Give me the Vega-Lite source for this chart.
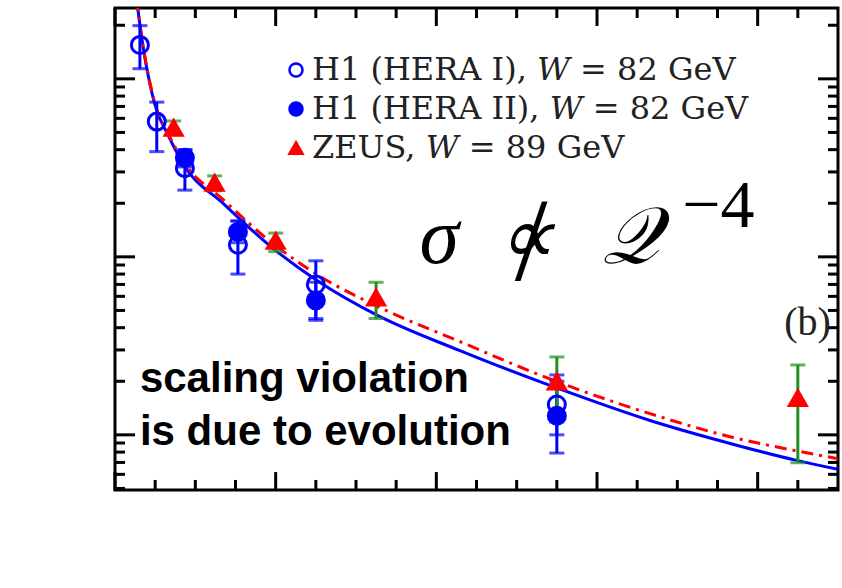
{
  "$schema": "https://vega.github.io/schema/vega-lite/v6.json",
  "width": 723,
  "height": 482,
  "autosize": "none",
  "padding": {"left": 115, "top": 8, "right": 4, "bottom": 98},
  "background": "white",
  "config": {
    "view": {"stroke": "black", "strokeWidth": 3},
    "font": "Liberation Serif",
    "axis": {
      "grid": false, "domain": false,
      "labelFont": "Liberation Serif", "titleFont": "DejaVu Serif",
      "labelColor": "black", "titleColor": "#222222", "tickColor": "black",
      "titleFontWeight": "normal"
    },
    "legend": {
      "orient": "none", "legendX": 165, "legendY": 46,
      "labelFont": "DejaVu Serif", "labelFontSize": 32, "labelColor": "#222222",
      "labelLimit": 700, "symbolSize": 170, "symbolStrokeWidth": 2.5,
      "rowPadding": 7, "padding": 0, "labelOffset": 0
    }
  },
  "datasets": {
    "xmaj": [{"v": 0}, {"v": 20}, {"v": 40}, {"v": 60}, {"v": 80}],
    "xmin": [{"v": 5}, {"v": 10}, {"v": 15}, {"v": 25}, {"v": 30}, {"v": 35}, {"v": 45}, {"v": 50}, {"v": 55}, {"v": 65}, {"v": 70}, {"v": 75}, {"v": 85}],
    "ymaj": [{"v": 0.1}, {"v": 1}, {"v": 10}],
    "ymin": [{"v": 0.05}, {"v": 0.06}, {"v": 0.07}, {"v": 0.08}, {"v": 0.09}, {"v": 0.2}, {"v": 0.3}, {"v": 0.4}, {"v": 0.5}, {"v": 0.6}, {"v": 0.7}, {"v": 0.8}, {"v": 0.9}, {"v": 2}, {"v": 3}, {"v": 4}, {"v": 5}, {"v": 6}, {"v": 7}, {"v": 8}, {"v": 9}, {"v": 20}],
    "blue": [
      {"q2": 2.7, "sigma": 28}, {"q2": 2.86, "sigma": 24.4}, {"q2": 4.97, "sigma": 7.14},
      {"q2": 6.6, "sigma": 4.84}, {"q2": 8.32, "sigma": 3.42}, {"q2": 13.66, "sigma": 1.96},
      {"q2": 19.63, "sigma": 1.12}, {"q2": 25.47, "sigma": 0.72}, {"q2": 32.55, "sigma": 0.472},
      {"q2": 42.86, "sigma": 0.298}, {"q2": 54.9, "sigma": 0.184}, {"q2": 66.5, "sigma": 0.1208},
      {"q2": 76.8, "sigma": 0.0889}, {"q2": 84.7, "sigma": 0.0721}, {"q2": 90, "sigma": 0.064}
    ],
    "red": [
      {"q2": 2.7, "sigma": 28}, {"q2": 2.86, "sigma": 24.4}, {"q2": 4.97, "sigma": 7.3},
      {"q2": 6.6, "sigma": 4.95}, {"q2": 8.32, "sigma": 3.55}, {"q2": 13.66, "sigma": 2.06},
      {"q2": 19.63, "sigma": 1.19}, {"q2": 25.47, "sigma": 0.78}, {"q2": 32.55, "sigma": 0.53},
      {"q2": 42.86, "sigma": 0.335}, {"q2": 54.9, "sigma": 0.2}, {"q2": 66.5, "sigma": 0.132},
      {"q2": 76.8, "sigma": 0.097}, {"q2": 84.7, "sigma": 0.0815}, {"q2": 90, "sigma": 0.0735}
    ],
    "pts": [
      {"series": "H1 (HERA I),  𝑊  =  82 GeV", "q2": 3.1, "sigma": 15.5, "lo": 11.4, "hi": 19.9},
      {"series": "H1 (HERA I),  𝑊  =  82 GeV", "q2": 5.2, "sigma": 5.75, "lo": 3.9, "hi": 7.4},
      {"series": "H1 (HERA I),  𝑊  =  82 GeV", "q2": 8.7, "sigma": 3.15, "lo": 2.37, "hi": 3.99},
      {"series": "H1 (HERA I),  𝑊  =  82 GeV", "q2": 15.3, "sigma": 1.17, "lo": 0.8, "hi": 1.59},
      {"series": "H1 (HERA I),  𝑊  =  82 GeV", "q2": 25, "sigma": 0.7, "lo": 0.45, "hi": 0.95},
      {"series": "H1 (HERA I),  𝑊  =  82 GeV", "q2": 55, "sigma": 0.148, "lo": 0.079, "hi": 0.217},
      {"series": "H1 (HERA II),  𝑊  =  82 GeV", "q2": 8.7, "sigma": 3.6, "lo": 3.2, "hi": 4.0},
      {"series": "H1 (HERA II),  𝑊  =  82 GeV", "q2": 15.3, "sigma": 1.38, "lo": 1.2, "hi": 1.59},
      {"series": "H1 (HERA II),  𝑊  =  82 GeV", "q2": 25, "sigma": 0.57, "lo": 0.44, "hi": 0.72},
      {"series": "H1 (HERA II),  𝑊  =  82 GeV", "q2": 55, "sigma": 0.128, "lo": 0.1, "hi": 0.2},
      {"series": "ZEUS,  𝑊  =  89 GeV", "q2": 7.3, "sigma": 5.3, "lo": 4.85, "hi": 5.8},
      {"series": "ZEUS,  𝑊  =  89 GeV", "q2": 12.4, "sigma": 2.6, "lo": 2.35, "hi": 2.85},
      {"series": "ZEUS,  𝑊  =  89 GeV", "q2": 20, "sigma": 1.23, "lo": 1.07, "hi": 1.36},
      {"series": "ZEUS,  𝑊  =  89 GeV", "q2": 32.5, "sigma": 0.59, "lo": 0.45, "hi": 0.72},
      {"series": "ZEUS,  𝑊  =  89 GeV", "q2": 55, "sigma": 0.199, "lo": 0.118, "hi": 0.274},
      {"series": "ZEUS,  𝑊  =  89 GeV", "q2": 85, "sigma": 0.161, "lo": 0.0697, "hi": 0.247}
    ],
    "math": [
      {"t": "σ", "x": 37.9, "y": 0.925},
      {"t": "∝", "x": 47.6, "y": 0.925},
      {"t": "𝒬", "x": 60.6, "y": 0.925}
    ],
    "slash": [{"t": "/", "x": 51.8, "y": 1.17}],
    "sup": [{"t": "−4", "x": 70.6, "y": 1.48}],
    "blabel": [{"t": "(b)", "x": 89.1, "y": 0.365}],
    "note": [{"t": "scaling violation\nis due to evolution", "x": 3.1, "y": 0.1745}]
  },
  "layer": [
    {
      "data": {"name": "blue"},
      "mark": {"type": "line", "color": "#0000ff", "strokeWidth": 3, "interpolate": "monotone", "clip": true},
      "encoding": {
        "x": {"field": "q2", "type": "quantitative", "scale": {"domain": [0, 90], "nice": false, "zero": false},
          "axis": {"orient": "bottom", "values": [0, 20, 40, 60, 80], "ticks": false, "labelFontSize": 36, "labelPadding": 12,
            "title": "𝒬²  [GeV²]", "titleFontSize": 31, "titlePadding": 10}},
        "y": {"field": "sigma", "type": "quantitative", "scale": {"type": "log", "domain": [0.049, 25], "nice": false},
          "axis": {"orient": "left", "values": [0.1, 1, 10], "format": "~g", "ticks": false, "labelFontSize": 36, "labelPadding": 14,
            "title": "σ(γ*p → γp)  [nb]", "titleFontSize": 33, "titlePadding": 2}}
      }
    },
    {
      "data": {"name": "red"},
      "mark": {"type": "line", "color": "#ff0000", "strokeWidth": 3, "strokeDash": [12, 6, 3, 6], "interpolate": "monotone", "clip": true},
      "encoding": {
        "x": {"field": "q2", "type": "quantitative", "axis": null},
        "y": {"field": "sigma", "type": "quantitative", "axis": null}
      }
    },
    {
      "data": {"name": "xmaj"},
      "mark": {"type": "rule", "color": "black", "strokeWidth": 3},
      "encoding": {"x": {"field": "v", "type": "quantitative", "axis": null}, "y": {"datum": 0.049, "type": "quantitative", "axis": null}, "y2": {"datum": 0.0618}}
    },
    {
      "data": {"name": "xmaj"},
      "mark": {"type": "rule", "color": "black", "strokeWidth": 3},
      "encoding": {"x": {"field": "v", "type": "quantitative", "axis": null}, "y": {"datum": 25, "type": "quantitative", "axis": null}, "y2": {"datum": 19.81}}
    },
    {
      "data": {"name": "xmin"},
      "mark": {"type": "rule", "color": "black", "strokeWidth": 3},
      "encoding": {"x": {"field": "v", "type": "quantitative", "axis": null}, "y": {"datum": 0.049, "type": "quantitative", "axis": null}, "y2": {"datum": 0.0558}}
    },
    {
      "data": {"name": "xmin"},
      "mark": {"type": "rule", "color": "black", "strokeWidth": 3},
      "encoding": {"x": {"field": "v", "type": "quantitative", "axis": null}, "y": {"datum": 25, "type": "quantitative", "axis": null}, "y2": {"datum": 21.96}}
    },
    {
      "data": {"name": "ymaj"},
      "mark": {"type": "rule", "color": "black", "strokeWidth": 3},
      "encoding": {"y": {"field": "v", "type": "quantitative", "axis": null}, "x": {"datum": 0, "type": "quantitative", "axis": null}, "x2": {"datum": 2.49}}
    },
    {
      "data": {"name": "ymaj"},
      "mark": {"type": "rule", "color": "black", "strokeWidth": 3},
      "encoding": {"y": {"field": "v", "type": "quantitative", "axis": null}, "x": {"datum": 90, "type": "quantitative", "axis": null}, "x2": {"datum": 87.51}}
    },
    {
      "data": {"name": "ymin"},
      "mark": {"type": "rule", "color": "black", "strokeWidth": 3},
      "encoding": {"y": {"field": "v", "type": "quantitative", "axis": null}, "x": {"datum": 0, "type": "quantitative", "axis": null}, "x2": {"datum": 1.245}}
    },
    {
      "data": {"name": "ymin"},
      "mark": {"type": "rule", "color": "black", "strokeWidth": 3},
      "encoding": {"y": {"field": "v", "type": "quantitative", "axis": null}, "x": {"datum": 90, "type": "quantitative", "axis": null}, "x2": {"datum": 88.755}}
    },
    {
      "data": {"name": "pts"},
      "mark": {"type": "rule", "strokeWidth": 3},
      "encoding": {
        "x": {"field": "q2", "type": "quantitative", "axis": null},
        "y": {"field": "lo", "type": "quantitative", "axis": null},
        "y2": {"field": "hi"},
        "color": {"condition": {"test": "indexof(datum.series, 'ZEUS') >= 0", "value": "#1f8f1f"}, "value": "#0000ff"}
      }
    },
    {
      "data": {"name": "pts"},
      "mark": {"type": "tick", "orient": "horizontal", "size": 15, "thickness": 3},
      "encoding": {
        "x": {"field": "q2", "type": "quantitative", "axis": null},
        "y": {"field": "lo", "type": "quantitative", "axis": null},
        "color": {"condition": {"test": "indexof(datum.series, 'ZEUS') >= 0", "value": "#1f8f1f"}, "value": "#0000ff"}
      }
    },
    {
      "data": {"name": "pts"},
      "mark": {"type": "tick", "orient": "horizontal", "size": 15, "thickness": 3},
      "encoding": {
        "x": {"field": "q2", "type": "quantitative", "axis": null},
        "y": {"field": "hi", "type": "quantitative", "axis": null},
        "color": {"condition": {"test": "indexof(datum.series, 'ZEUS') >= 0", "value": "#1f8f1f"}, "value": "#0000ff"}
      }
    },
    {
      "data": {"name": "pts"},
      "mark": {"type": "point", "strokeWidth": 3, "size": 290, "opacity": 1},
      "encoding": {
        "x": {"field": "q2", "type": "quantitative", "axis": null},
        "y": {"field": "sigma", "type": "quantitative", "axis": null},
        "shape": {"field": "series", "type": "nominal",
          "scale": {"domain": ["H1 (HERA I),  𝑊  =  82 GeV", "H1 (HERA II),  𝑊  =  82 GeV", "ZEUS,  𝑊  =  89 GeV"], "range": ["circle", "circle", "triangle-up"]},
          "legend": {"title": null}},
        "fill": {"field": "series", "type": "nominal",
          "scale": {"domain": ["H1 (HERA I),  𝑊  =  82 GeV", "H1 (HERA II),  𝑊  =  82 GeV", "ZEUS,  𝑊  =  89 GeV"], "range": ["transparent", "#0000ff", "#ff0000"]},
          "legend": {"title": null}},
        "stroke": {"field": "series", "type": "nominal",
          "scale": {"domain": ["H1 (HERA I),  𝑊  =  82 GeV", "H1 (HERA II),  𝑊  =  82 GeV", "ZEUS,  𝑊  =  89 GeV"], "range": ["#0000ff", "#0000ff", "#ff0000"]},
          "legend": {"title": null}}
      }
    },
    {
      "data": {"name": "math"},
      "mark": {"type": "text", "fontSize": 80, "font": "Liberation Serif", "fontStyle": "italic", "align": "left", "baseline": "alphabetic", "color": "black"},
      "encoding": {
        "x": {"field": "x", "type": "quantitative", "axis": null},
        "y": {"field": "y", "type": "quantitative", "axis": null},
        "text": {"field": "t"}
      }
    },
    {
      "data": {"name": "slash"},
      "mark": {"type": "text", "fontSize": 118, "font": "Liberation Serif", "align": "center", "baseline": "middle", "color": "black"},
      "encoding": {
        "x": {"field": "x", "type": "quantitative", "axis": null},
        "y": {"field": "y", "type": "quantitative", "axis": null},
        "text": {"field": "t"}
      }
    },
    {
      "data": {"name": "sup"},
      "mark": {"type": "text", "fontSize": 68, "font": "Liberation Serif", "align": "left", "baseline": "alphabetic", "color": "black"},
      "encoding": {
        "x": {"field": "x", "type": "quantitative", "axis": null},
        "y": {"field": "y", "type": "quantitative", "axis": null},
        "text": {"field": "t"}
      }
    },
    {
      "data": {"name": "blabel"},
      "mark": {"type": "text", "fontSize": 40, "font": "Liberation Serif", "align": "right", "baseline": "alphabetic", "color": "#222222"},
      "encoding": {
        "x": {"field": "x", "type": "quantitative", "axis": null},
        "y": {"field": "y", "type": "quantitative", "axis": null},
        "text": {"field": "t"}
      }
    },
    {
      "data": {"name": "note"},
      "mark": {"type": "text", "fontSize": 42, "font": "Liberation Sans", "fontWeight": "bold", "align": "left", "baseline": "alphabetic", "lineBreak": "\n", "lineHeight": 53, "color": "black"},
      "encoding": {
        "x": {"field": "x", "type": "quantitative", "axis": null},
        "y": {"field": "y", "type": "quantitative", "axis": null},
        "text": {"field": "t"}
      }
    }
  ]
}
